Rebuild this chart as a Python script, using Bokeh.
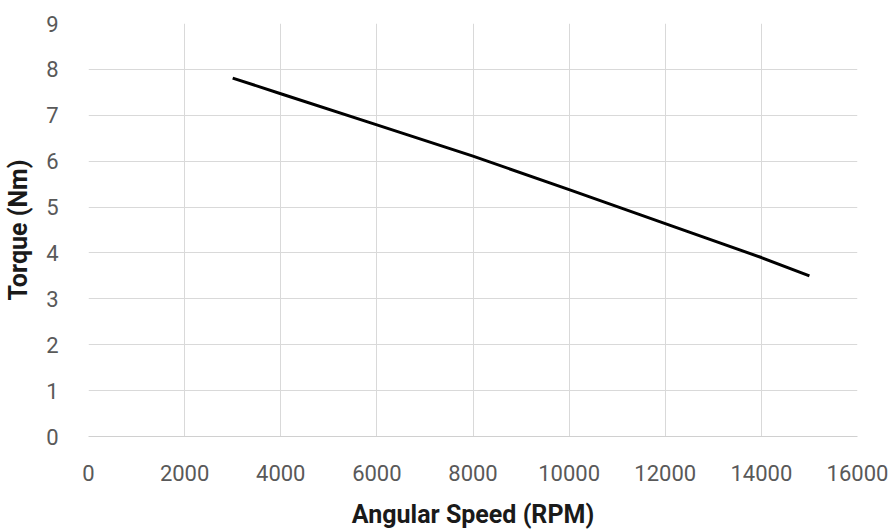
from bokeh.plotting import figure
from bokeh.models import Range1d, SingleIntervalTicker, ColumnDataSource
from bokeh.embed import file_html
from bokeh.resources import INLINE

speed_rpm = [3000, 4000, 6000, 8000, 10000, 12000, 14000, 15000]
torque_nm = [7.81, 7.47, 6.79, 6.11, 5.38, 4.64, 3.90, 3.50]

x_ticks_interval = 2000
y_ticks_interval = 1

src = ColumnDataSource(dict(x=speed_rpm, y=torque_nm))

p = figure(width=893, height=531, output_backend="svg", toolbar_location=None,
           x_range=Range1d(0, 16000), y_range=Range1d(0, 9),
           min_border_left=88, min_border_right=36, min_border_top=23, min_border_bottom=91)
p.outline_line_color = None
p.background_fill_color = "white"
p.border_fill_color = "white"

p.line("x", "y", source=src, line_color="black", line_width=3)

p.xaxis.ticker = SingleIntervalTicker(interval=x_ticks_interval)
p.yaxis.ticker = SingleIntervalTicker(interval=y_ticks_interval)

for ax in (p.xaxis[0], p.yaxis[0]):
    ax.major_tick_line_color = None
    ax.minor_tick_line_color = None
    ax.major_label_text_font = "Roboto"
    ax.major_label_text_font_size = "22px"
    ax.major_label_text_color = "#595959"
    ax.axis_label_text_font = "Roboto"
    ax.axis_label_text_font_style = "bold"
    ax.axis_label_text_color = "#1a1a1a"
    ax.axis_label_text_font_size = "25px"

p.xaxis.axis_label = "Angular Speed (RPM)"
p.yaxis.axis_label = "Torque (Nm)"
p.xaxis.axis_line_color = "#d0d0d0"
p.yaxis.axis_line_color = None
p.xaxis.major_label_standoff = 22
p.yaxis.major_label_standoff = 24
p.xaxis.axis_label_standoff = 16
p.yaxis.axis_label_standoff = 10

p.xgrid.grid_line_color = "#d9d9d9"
p.ygrid.grid_line_color = "#d9d9d9"
p.xgrid.grid_line_width = 1
p.ygrid.grid_line_width = 1

open("out.html", "w").write(file_html(p, INLINE))
